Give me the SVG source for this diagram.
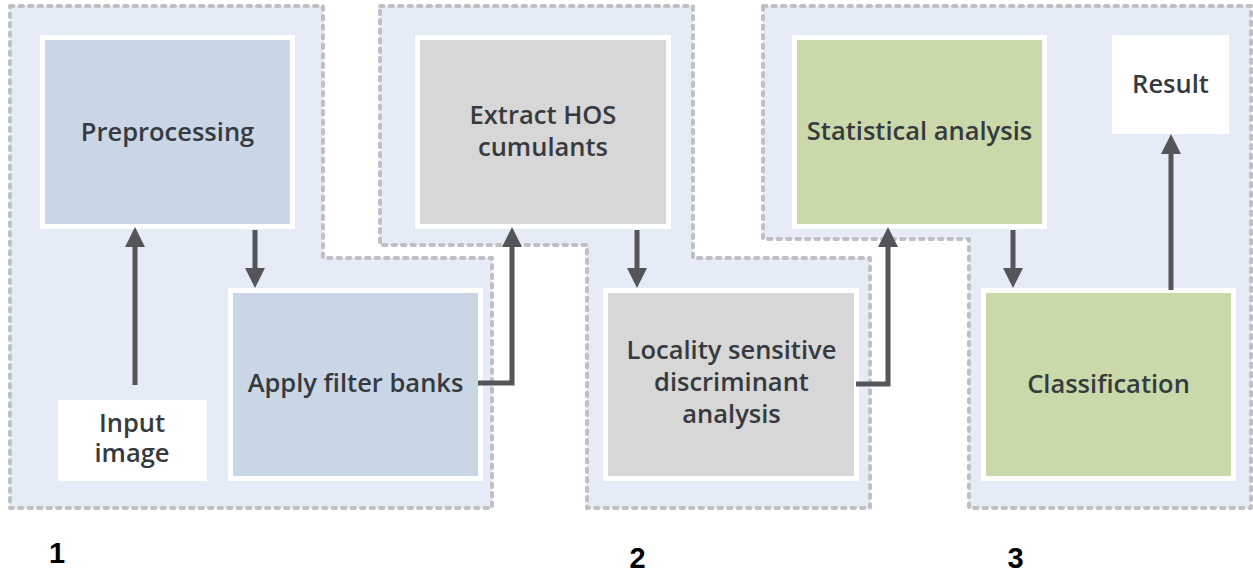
<svg xmlns="http://www.w3.org/2000/svg" width="1253" height="576" viewBox="0 0 1253 576">
  <style>
    .panel { fill: #e6ecf7; stroke: #bfc0c3; stroke-width: 4; stroke-dasharray: 3.5 6; stroke-linecap: round; stroke-linejoin: round; }
    .box { stroke: #ffffff; stroke-width: 5; }
    .blue { fill: #c9d6e6; }
    .grey { fill: #d7d7d7; }
    .green { fill: #cad9a9; }
    .white { fill: #ffffff; }
    .label { font-family: "Open Sans", "DejaVu Sans", sans-serif; font-weight: 600; font-size: 25.5px; fill: #363a3f; text-anchor: middle; }
    .num { font-family: "Liberation Sans", Arial, sans-serif; font-weight: bold; font-size: 29px; fill: #000000; text-anchor: middle; }
    .conn { fill: none; stroke: #545559; stroke-width: 5; stroke-linejoin: miter; marker-end: url(#head); }
  </style>
  <defs>
    <marker id="head" viewBox="0 0 20 20" markerWidth="20" markerHeight="20" refX="6" refY="10" orient="auto" markerUnits="userSpaceOnUse">
      <path d="M0,0 L20,10 L0,20 Z" fill="#545559"/>
    </marker>
  </defs>

  <!-- stage panels -->
  <g id="panels">
    <path id="panel-1" class="panel" d="M10,6 H323 V258 H492 V508 H10 Z"/>
    <path id="panel-2" class="panel" d="M380,6 H693 V258 H870 V508 H587 V245 H380 Z"/>
    <path id="panel-3" class="panel" d="M763,6 H1251 V508 H969 V239 H763 Z"/>
  </g>

  <!-- process nodes -->
  <g id="node-preprocessing">
    <rect class="box blue" x="42.5" y="37.5" width="250" height="189"/>
    <text class="label" x="167.5" y="141">Preprocessing</text>
  </g>
  <g id="node-input-image">
    <rect class="white" x="58" y="400" width="149" height="81"/>
    <text class="label" x="132" y="432">Input</text>
    <text class="label" x="132" y="462">image</text>
  </g>
  <g id="node-apply-filter-banks">
    <rect class="box blue" x="230.5" y="290.5" width="250" height="188"/>
    <text class="label" x="355.5" y="392">Apply filter banks</text>
  </g>
  <g id="node-extract-hos">
    <rect class="box grey" x="417.5" y="37.5" width="251" height="189"/>
    <text class="label" x="543" y="124">Extract HOS</text>
    <text class="label" x="543" y="156">cumulants</text>
  </g>
  <g id="node-lsda">
    <rect class="box grey" x="605.5" y="290.5" width="251" height="188"/>
    <text class="label" x="731.5" y="359">Locality sensitive</text>
    <text class="label" x="731.5" y="391">discriminant</text>
    <text class="label" x="731.5" y="423">analysis</text>
  </g>
  <g id="node-statistical-analysis">
    <rect class="box green" x="794.5" y="37.5" width="250" height="189"/>
    <text class="label" x="919.5" y="140">Statistical analysis</text>
  </g>
  <g id="node-result">
    <rect class="white" x="1112" y="35" width="117" height="99"/>
    <text class="label" x="1170.5" y="93">Result</text>
  </g>
  <g id="node-classification">
    <rect class="box green" x="983.5" y="290.5" width="250" height="188"/>
    <text class="label" x="1108.5" y="393">Classification</text>
  </g>

  <!-- stage numbers -->
  <g id="stage-numbers">
    <text class="num" x="57" y="563">1</text>
    <text class="num" x="637.5" y="568">2</text>
    <text class="num" x="1015.5" y="568">3</text>
  </g>

  <!-- connectors -->
  <g id="connectors">
    <path class="conn" d="M135,385 V241"/>
    <path class="conn" d="M255,230 V274"/>
    <path class="conn" d="M478,383 H512 V241"/>
    <path class="conn" d="M637,230 V274"/>
    <path class="conn" d="M856,384 H888 V241"/>
    <path class="conn" d="M1013,230 V274"/>
    <path class="conn" d="M1171,290 V148"/>
  </g>
</svg>
